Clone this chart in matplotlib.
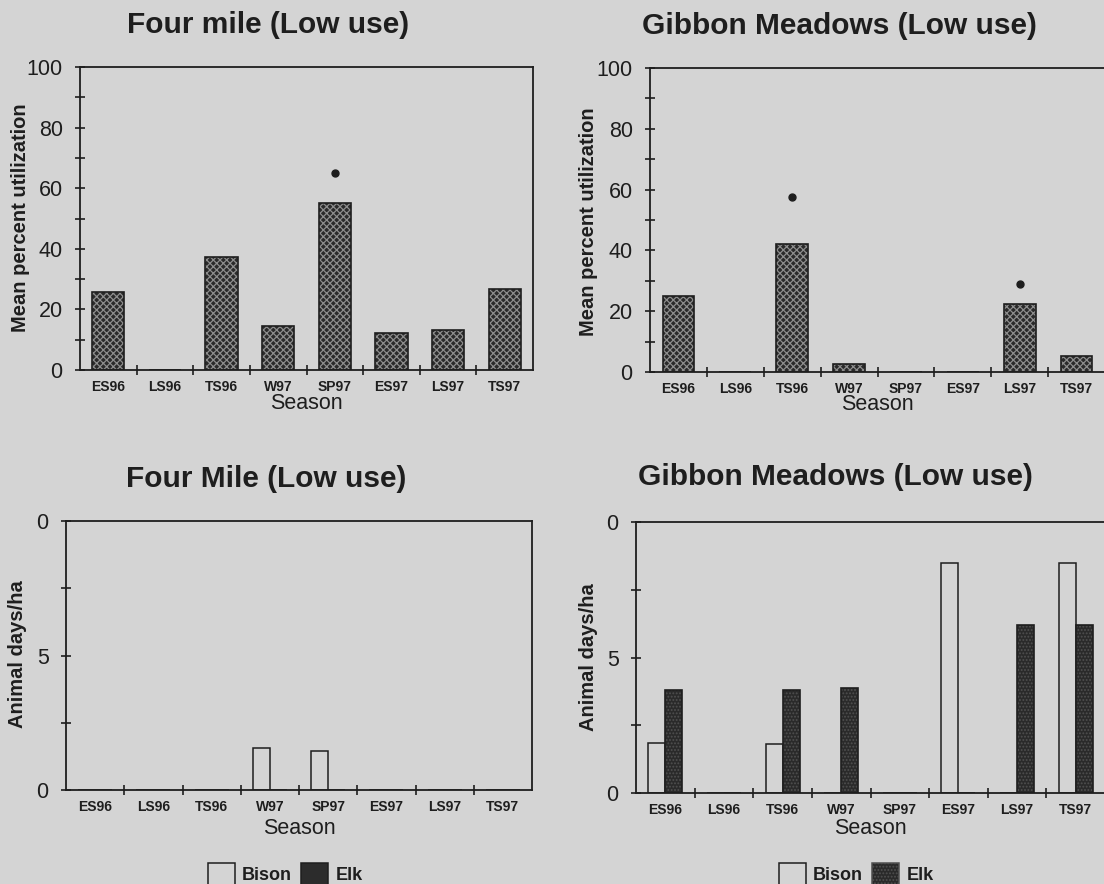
import matplotlib
matplotlib.use('Agg')
import matplotlib.pyplot as plt
from matplotlib.patches import Patch
import numpy as np

# 데이터
seasons = ['ES96', 'LS96', 'TS96', 'W97', 'SP97', 'ES97', 'LS97', 'TS97']

fourmile_util = [25.6, 0, 37.2, 14.6, 55.1, 12.3, 13.3, 26.6]
fourmile_dot = {'SP97': 65}
gibbon_util = [25, 0, 42.1, 2.6, 0, 0, 22.4, 5.3]
gibbon_dot = {'TS96': 57.5, 'LS97': 29}

fourmile_bison = [0, 0, 0, 1.56, 1.45, 0, 0, 0]
fourmile_elk = [0, 0, 0, 0, 0, 0, 0, 0]
gibbon_bison = [1.85, 0, 1.8, 0, 0, 8.5, 0, 8.5]
gibbon_elk = [3.8, 0, 3.8, 3.87, 0, 0, 6.2, 6.2]

BG = '#d4d4d4'
INK = '#1e1e1e'
W, H = 1104, 884

plt.rcParams['font.family'] = ['Liberation Sans', 'DejaVu Sans']
plt.rcParams['hatch.linewidth'] = 0.9

fig = plt.figure(figsize=(W / 100, H / 100), dpi=100, facecolor=BG)


def make_ax(left, right, top, bottom):
    ax = fig.add_axes([left / W, 1 - bottom / H, (right - left) / W, (bottom - top) / H])
    ax.set_facecolor(BG)
    return ax


def style_ax(ax, yticks, ylabels, yminor, ylim, show_right=True):
    x = np.arange(len(seasons))
    ax.set_xlim(-0.5, 7.5)
    ax.set_ylim(*ylim)
    ax.set_xticks(x)
    ax.set_xticklabels(seasons, fontsize=10, fontweight='bold', color=INK)
    ax.tick_params(axis='x', which='major', length=0, pad=7)
    ax.set_xticks(np.arange(0.5, 7.0, 1.0), minor=True)
    ax.tick_params(axis='x', which='minor', direction='inout', length=7, width=1.2, color=INK)
    ax.set_yticks(yticks)
    ax.set_yticklabels(ylabels, fontsize=15.5, color=INK)
    ax.set_yticks(yminor, minor=True)
    ax.tick_params(axis='y', which='both', direction='inout', length=7, width=1.2, color=INK, pad=9)
    for s in ['left', 'bottom', 'top', 'right']:
        ax.spines[s].set_color(INK)
        ax.spines[s].set_linewidth(1.3)
    ax.spines['right'].set_visible(show_right)


def hatched_bars(ax, x, vals, width, face, hatch, hcolor):
    ax.bar(x, vals, width, facecolor=face, edgecolor=hcolor, hatch=hatch, linewidth=0, zorder=2)
    ax.bar(x, vals, width, fill=False, edgecolor=INK, linewidth=1.2, zorder=3)


x = np.arange(len(seasons))

# 위쪽 왼쪽: Four mile 이용률
ax1 = make_ax(80, 533, 67, 370)
style_ax(ax1, [0, 20, 40, 60, 80, 100], ['0', '20', '40', '60', '80', '100'],
         np.arange(10, 100, 20), (0, 100))
hatched_bars(ax1, x, fourmile_util, 0.57, '#2a2a2a', 'xxxxx', '#8c8c8c')
for k, v in fourmile_dot.items():
    ax1.plot(seasons.index(k), v, 'o', color=INK, ms=5, zorder=4)

# 위쪽 오른쪽: Gibbon Meadows 이용률
ax2 = make_ax(650, 1105, 68, 372)
style_ax(ax2, [0, 20, 40, 60, 80, 100], ['0', '20', '40', '60', '80', '100'],
         np.arange(10, 100, 20), (0, 100), show_right=False)
hatched_bars(ax2, x, gibbon_util, 0.56, '#2a2a2a', 'xxxxx', '#8c8c8c')
for k, v in gibbon_dot.items():
    ax2.plot(seasons.index(k), v, 'o', color=INK, ms=5, zorder=4)

# 아래쪽 왼쪽: Four Mile 동물 일수
ax3 = make_ax(66, 532, 521, 790)
style_ax(ax3, [0, 5, 10], ['0', '5', '0'], [2.5, 7.5], (0, 10))
ax3.bar(x - 0.145, fourmile_bison, 0.29, facecolor=BG, edgecolor=INK, linewidth=1.1, zorder=2)
ax3.bar(x + 0.145, fourmile_elk, 0.29, facecolor='#2c2c2c', edgecolor=INK, linewidth=1.1, zorder=2)

# 아래쪽 오른쪽: Gibbon Meadows 동물 일수
ax4 = make_ax(636, 1105, 522, 793)
style_ax(ax4, [0, 5, 10], ['0', '5', '0'], [2.5, 7.5], (0, 10), show_right=False)
ax4.bar(x - 0.145, gibbon_bison, 0.29, facecolor=BG, edgecolor=INK, linewidth=1.1, zorder=2)
hatched_bars(ax4, x + 0.145, gibbon_elk, 0.29, '#2a2a2a', '.....', '#505050')

# 제목, 축 이름
titles = [('Four mile (Low use)', 268, 33), ('Gibbon Meadows (Low use)', 839, 34),
          ('Four Mile (Low use)', 266, 487), ('Gibbon Meadows (Low use)', 835, 485)]
for t, px, py in titles:
    fig.text(px / W, 1 - py / H, t, ha='center', va='baseline', fontsize=21.5,
             fontweight='bold', color=INK)

for px, py in [(306, 404), (877, 405), (299, 829), (870, 829)]:
    fig.text(px / W, 1 - py / H, 'Season', ha='center', va='center', fontsize=15.5, color=INK)

ylabs = [('Mean percent utilization', 21, 218), ('Mean percent utilization', 588, 222),
         ('Animal days/ha', 18, 654), ('Animal days/ha', 588, 657)]
for t, px, py in ylabs:
    fig.text(px / W, 1 - py / H, t, ha='center', va='center', rotation=90, fontsize=14.5,
             fontweight='bold', color=INK)

# 범례
leg_kw = dict(loc='center', frameon=False, ncol=2, handlelength=1.5,
              handleheight=1.5, handletextpad=0.4, columnspacing=0.5,
              prop={'weight': 'bold', 'size': 13})
h1 = [Patch(facecolor=BG, edgecolor=INK, linewidth=1.1, label='Bison'),
      Patch(facecolor='#2c2c2c', edgecolor=INK, linewidth=1.1, label='Elk')]
leg1 = fig.legend(handles=h1, bbox_to_anchor=(285 / W, 1 - 874 / H), **leg_kw)
h2 = [Patch(facecolor=BG, edgecolor=INK, linewidth=1.1, label='Bison'),
      Patch(facecolor='#2a2a2a', edgecolor='#505050', hatch='.....', linewidth=1.1, label='Elk')]
leg2 = fig.legend(handles=h2, bbox_to_anchor=(856 / W, 1 - 874 / H), **leg_kw)
for lg in (leg1, leg2):
    for txt in lg.get_texts():
        txt.set_color(INK)

fig.savefig('out.png', dpi=100, facecolor=BG)
